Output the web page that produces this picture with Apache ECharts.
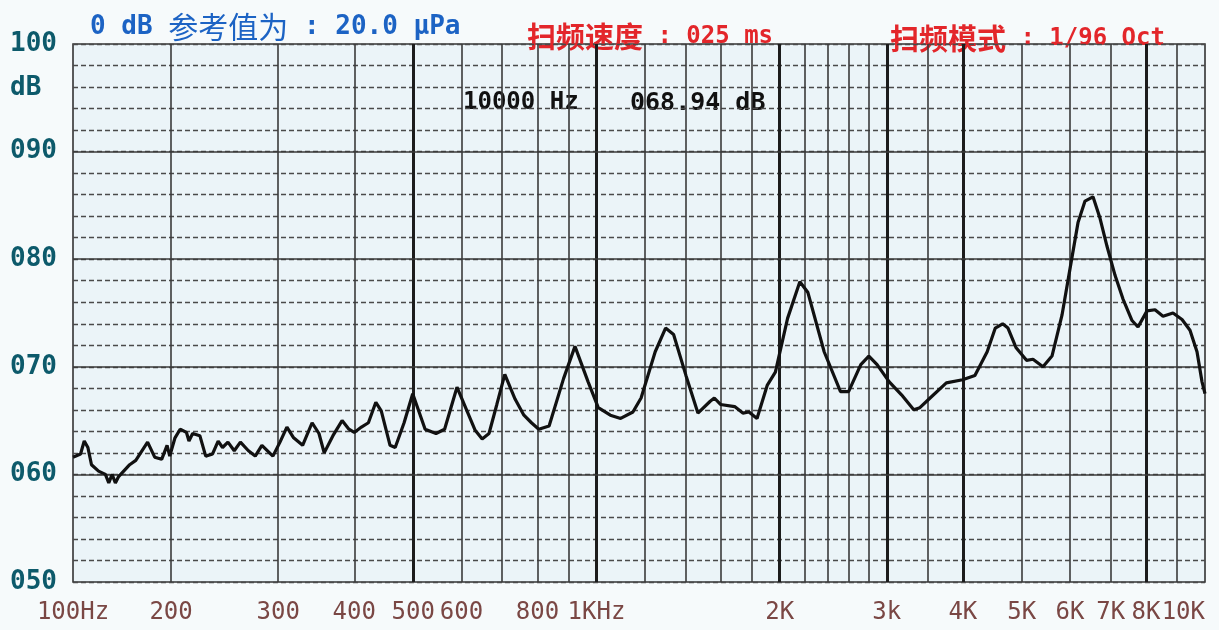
<!DOCTYPE html>
<html><head><meta charset="utf-8">
<script src="https://cdn.jsdelivr.net/npm/echarts@6/dist/echarts.min.js"></script>
<style>html,body{margin:0;padding:0;background:#f6fafb}#c{width:1219px;height:630px}</style>
</head><body><div id="c"></div>
<script>
// ---- data ----
const freqs = [138,142,144,146,148,152,156,158,160,162,164,171,175,183,188,193,197,199,203,207,212,214,217,223,228,234,239,243,248,254,260,268,275,282,294,302,310,318,329,341,350,357,369,382,392,400,411,422,434,443,458,467,483,499,523,545,563,590,632,649,666,686,707,735,760,782,804,836,883,922,969,1007,1054,1096,1148,1184,1249,1299,1339,1403,1468,1538,1562,1599,1687,1740,1781,1836,1909,1968,2061,2159,2226,2367,2518,2596,2719,2803,2892,3028,3172,3322,3400,3534,3758,3996,4187,4386,4523,4650,4745,4890,5090,5216,5417,5605,5821,6000,6185,6351,6546,6722,6902,7115,7333,7587,7761,8030,8277,8531,8860,9167,9448,9702,9888,10000];
const levels = [61.6,61.9,63.1,62.5,60.9,60.3,60.0,59.2,60.0,59.2,59.8,60.9,61.3,63.0,61.6,61.4,62.7,61.7,63.4,64.2,63.9,63.1,63.8,63.6,61.7,61.9,63.1,62.5,63.0,62.2,63.0,62.2,61.7,62.7,61.7,63.0,64.4,63.4,62.7,64.8,63.8,62.0,63.6,65.0,64.2,63.9,64.4,64.8,66.7,65.9,62.7,62.5,64.8,67.5,64.2,63.8,64.2,68.1,64.1,63.3,63.8,66.5,69.3,67.0,65.5,64.8,64.2,64.5,68.9,71.9,68.6,66.2,65.5,65.2,65.8,67.1,71.4,73.6,73.0,69.2,65.7,66.8,67.1,66.5,66.3,65.7,65.8,65.2,68.3,69.5,74.5,77.9,76.9,71.4,67.7,67.7,70.2,71.0,70.2,68.6,67.4,66.0,66.2,67.1,68.5,68.8,69.2,71.4,73.6,74.0,73.6,71.8,70.6,70.7,70.0,71.0,74.8,79.1,83.4,85.4,85.8,83.8,81.2,78.5,76.3,74.3,73.7,75.2,75.3,74.7,75.0,74.4,73.4,71.4,68.6,67.5];
const gridFreqs = [200,300,400,500,600,700,800,900,1000,1200,1400,1600,1800,2000,2200,2400,2600,2800,3000,3500,4000,5000,6000,7000,8000,9000];
const thickFreqs = [500,1000,2000,3000,4000,8000];
const majorLevels = [60,70,80,90];
const xTickFreqs = [138,200,300,400,500,600,800,1000,2000,3000,4000,5000,6000,7000,8000,10000];
const xTickLabels = ['100Hz','200','300','400','500','600','800','1KHz','2K','3k','4K','5K','6K','7K','8K','10K'];

const MONO = '"DejaVu Sans Mono", "Noto Sans CJK SC", monospace';
const CJK = '"Noto Sans CJK SC", sans-serif';
const chart = echarts.init(document.getElementById('c'), null, {renderer: 'canvas'});

const vLines = gridFreqs.map(f => {
  const thick = thickFreqs.indexOf(f) >= 0;
  return {xAxis: f, lineStyle: {type: 'solid', width: thick ? 3 : 1.6, color: thick ? '#1c1c1c' : '#3a3a3a'}};
});
const hLines = majorLevels.map(v => ({yAxis: v, lineStyle: {type: 'solid', width: 1.6, color: '#3a3a3a'}}));
const labelLines = xTickFreqs.map((f, i) => ({
  xAxis: f,
  lineStyle: {width: 0, color: 'rgba(0,0,0,0)'},
  label: {show: true, position: 'start', distance: 19, formatter: xTickLabels[i],
          align: i === xTickFreqs.length - 1 ? 'right' : 'center',
          color: '#7a4744', fontFamily: MONO, fontSize: 24}
}));

function headText(x, y, cjk, latin, color, cjkWeight) {
  return {type: 'text', left: x, top: y, style: {
    text: '{c|' + cjk + '}{l|' + latin + '}',
    rich: {
      c: {font: cjkWeight + ' 29px ' + CJK, fill: color, color: color},
      l: {font: 'bold 24px ' + MONO, fill: color, color: color}
    }
  }};
}

chart.setOption({
  animation: false,
  backgroundColor: '#f6fafb',
  grid: {left: 73, right: 14, top: 44, bottom: 48, show: true, backgroundColor: '#ebf4f8',
         borderColor: '#333', borderWidth: 1.6, containLabel: false, outerBoundsMode: 'none'},
  xAxis: {type: 'log', logBase: 10, min: 138, max: 10000,
          axisLine: {show: false}, axisTick: {show: false}, axisLabel: {show: false}, splitLine: {show: false}},
  yAxis: {type: 'value', min: 50, max: 100, interval: 2,
          axisLine: {show: false}, axisTick: {show: false},
          splitLine: {show: true, lineStyle: {type: [5, 3], color: '#4a4a4a', width: 1.3}},
          axisLabel: {margin: 63, align: 'left', color: '#0d5a6b', fontFamily: MONO, fontWeight: 'bold', fontSize: 26,
                      formatter: v => (v % 10 === 0 ? String(v).padStart(3, '0') : '')}},
  graphic: [
    {type: 'text', left: 10, top: 75, style: {text: 'dB', font: 'bold 26px ' + MONO, fill: '#0d5a6b'}},
    {type: 'text', left: 90, top: 12, style: {
      text: '{l|0 dB }{c|参考值为}{l| : 20.0 μPa}',
      rich: {c: {font: 'normal 30px ' + CJK, fill: '#1c63c4', color: '#1c63c4'},
             l: {font: 'bold 26px ' + MONO, fill: '#1c63c4', color: '#1c63c4'}}}},
    headText(527, 22, '扫频速度', ' : 025 ms', '#e3262a', 'bold'),
    headText(890, 24, '扫频模式', ' : 1/96 Oct', '#e3262a', 'bold'),
    {type: 'text', left: 463, top: 91, style: {text: '10000 Hz', font: 'bold 24px ' + MONO, fill: '#111'}},
    {type: 'text', left: 630, top: 91, style: {text: '068.94 dB', font: 'bold 25px ' + MONO, fill: '#111'}}
  ],
  series: [
    {type: 'line', data: [], silent: true,
     markLine: {silent: true, symbol: ['none', 'none'], z: 1, label: {show: false}, animation: false,
                data: vLines.concat(hLines)}},
    {type: 'line', data: [], silent: true,
     markLine: {silent: true, symbol: ['none', 'none'], z: 1, animation: false, data: labelLines}},
    {type: 'line', z: 10, symbol: 'none', silent: true,
     data: freqs.map((f, i) => [f, levels[i]]),
     lineStyle: {color: '#111', width: 3.2}}
  ]
});
</script></body></html>
